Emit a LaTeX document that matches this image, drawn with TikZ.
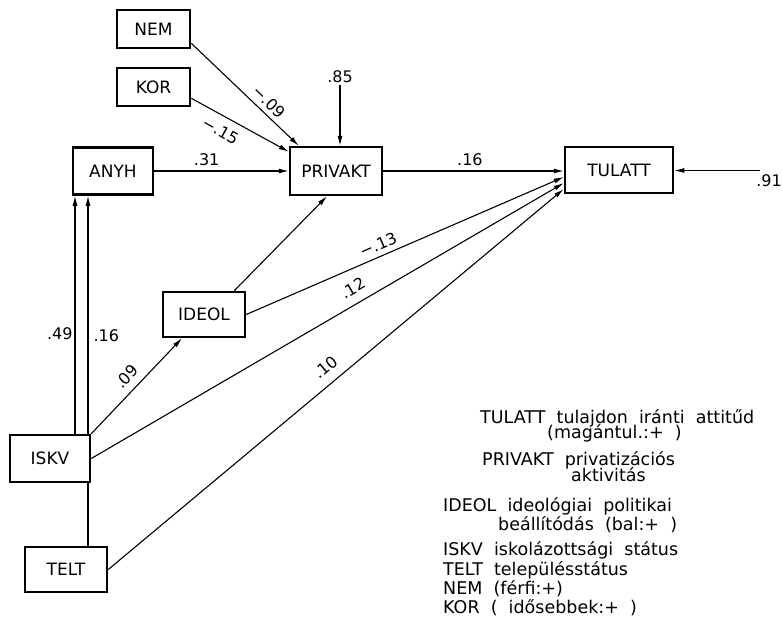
\documentclass[tikz,border=0pt]{standalone}
\usepackage{fontspec}
\setmainfont{DejaVu Sans}
\newfontfamily\legfont[WordSpace=2]{DejaVu Sans}
\usetikzlibrary{arrows.meta,backgrounds}
\begin{document}
\begin{tikzpicture}[x=1pt,y=-1pt,
  box/.style={draw, line width=2.5pt, fill=white, font=\fontsize{17}{17}\selectfont, inner sep=0pt},
  arr/.style={line width=1.1pt, -{Latex[length=10pt,width=5pt]}},
  lbl/.style={font=\fontsize{16}{16}\selectfont, inner sep=2pt},
  leg/.style={anchor=base west, inner sep=0pt, font=\legfont\fontsize{17.5}{17.5}\selectfont}]
\useasboundingbox (0,0) rectangle (783,625);
% boxes
\node[box, minimum width=73pt, minimum height=38pt] (NEM) at (153.5,29) {NEM};
\node[box, minimum width=73pt, minimum height=38pt] (KOR) at (153.5,87) {KOR};
\node[box, minimum width=80pt, minimum height=47pt] (ANYH) at (113,171) {ANYH};
\node[box, minimum width=92pt, minimum height=48pt] (PRIVAKT) at (336,171) {PRIVAKT};
\node[box, minimum width=108pt, minimum height=46pt] (TULATT) at (619,170) {TULATT};
\node[box, minimum width=82pt, minimum height=45pt] (IDEOL) at (204,314.5) {IDEOL};
\node[box, minimum width=80pt, minimum height=47pt] (ISKV) at (50,458.5) {ISKV};
\node[box, minimum width=82pt, minimum height=45pt] (TELT) at (66,569.5) {TELT};
\coordinate (e85) at (340,85);
\coordinate (e91) at (760,170.5);
\begin{scope}[on background layer]
\fill[white] (0,0) rectangle (783,625);
\draw[arr] ([yshift=6pt]NEM.south east) -- node[lbl, sloped, above=3pt, pos=0.65] (l09a) {−.09} ([xshift=10pt]PRIVAKT.north west);
\draw[arr] ([yshift=9pt]KOR.south east) -- node[lbl, sloped, below=6pt, pos=0.37] (l15) {−.15} ([yshift=-6pt]PRIVAKT.north west);
\draw[arr] (e85) -- (e85 |- PRIVAKT.north);
\draw[arr] (ANYH.east) -- node[lbl, above=3pt, pos=0.39] (l31) {.31} (ANYH.east -| PRIVAKT.west);
\draw[arr] (PRIVAKT.east) -- node[lbl, above=3pt, pos=0.48] (l16a) {.16} (PRIVAKT.east -| TULATT.west);
\draw[arr] (e91) -- (e91 -| TULATT.east);
\draw[arr] ([xshift=-12pt]IDEOL.north east) -- ([xshift=-9pt]PRIVAKT.south);
\draw[arr] (IDEOL.east) -- node[lbl, sloped, above=3pt, pos=0.43] (l13) {−.13} ([yshift=-7pt]TULATT.west);
\draw[arr] (ISKV.east) -- node[lbl, sloped, above=7pt, pos=0.57] (l12) {.12} ([yshift=-13pt]TULATT.west);
\draw[arr] (TELT.east) -- node[lbl, sloped, above=7pt, pos=0.5] (l10) {.10} ([yshift=-19pt]TULATT.west);
\draw[arr] (ISKV.north east) -- node[lbl, sloped, above=5pt, pos=0.5] (l09b) {.09} ([xshift=-22pt]IDEOL.south);
\draw[arr] ([xshift=25pt]ISKV.north) -- node[lbl, left, pos=0.42] (l49) {.49} ([xshift=25pt]ISKV.north |- ANYH.south);
\draw[arr] ([xshift=22pt]TELT.north) -- node[lbl, right=3pt, pos=0.6] (l16b) {.16} ([xshift=22pt]TELT.north |- ANYH.south);
\end{scope}
\node[lbl, above] (l85) at (e85) {.85};
\node[lbl] (l91) at (769,181) {.91};
% legend
\node[leg] (g1) at (480,423) {TULATT tulajdon iránti attitűd};
\node[leg] (g2) at (547,438) {(magántul.:+ )};
\node[leg] (g3) at (482,465) {PRIVAKT privatizációs};
\node[leg] (g4) at (571,481) {aktivitás};
\node[leg] (g5) at (443,511) {IDEOL ideológiai politikai};
\node[leg] (g6) at (498,530) {beállítódás (bal:+ )};
\node[leg] (g7) at (443,555) {ISKV iskolázottsági státus};
\node[leg] (g8) at (443,575) {TELT településstátus};
\node[leg] (g9) at (443,594) {NEM (férfi:+)};
\node[leg] (g10) at (443,613) {KOR ( idősebbek:+ )};
\end{tikzpicture}
\end{document}
